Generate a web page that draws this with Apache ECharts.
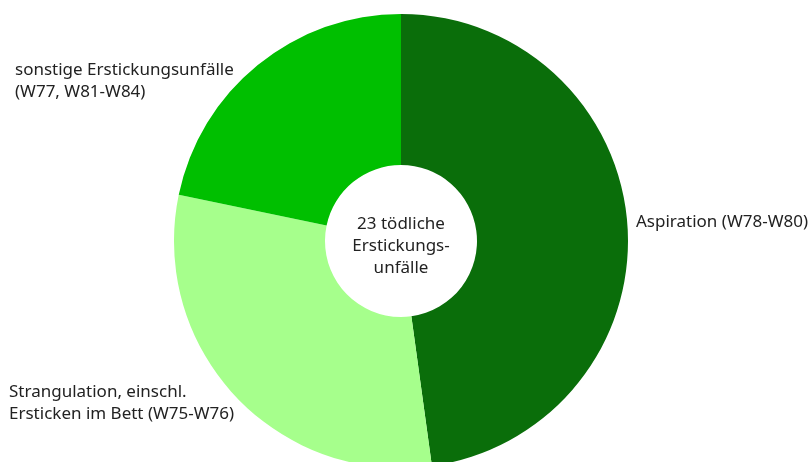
<!DOCTYPE html>
<html>
<head>
<meta charset="utf-8">
<script src="https://cdn.jsdelivr.net/npm/echarts@6/dist/echarts.min.js"></script>
<style>
  html, body { margin: 0; padding: 0; background: #fff; }
  #chart { width: 811px; height: 462px; }
</style>
</head>
<body>
<div id="chart"></div>
<script>
// Daten: tödliche Erstickungsunfälle
var categories = ['Aspiration (W78-W80)', 'Strangulation, einschl.\nErsticken im Bett (W75-W76)', 'sonstige Erstickungsunfälle\n(W77, W81-W84)'];
var values = [11, 7, 5];
var centerText = '23 tödliche\nErstickungs-\nunfälle';

var colors = ['#0a6e0a', '#a6ff8c', '#00bf00'];
// Beschriftungspositionen (x, y)
var labelPos = [
  { x: 636, y: 222 },
  { x: 9, y: 403 },
  { x: 15, y: 81 }
];

var pieData = categories.map(function (c, i) {
  return { name: c, value: values[i] };
});

var font = '"Noto Sans", "Open Sans", sans-serif';

var option = {
  animation: false,
  color: colors,
  series: [{
    type: 'pie',
    center: [401, 241],
    radius: [76, 227],
    startAngle: 90,
    clockwise: true,
    silent: true,
    itemStyle: { borderWidth: 0 },
    label: {
      show: true,
      position: 'outside',
      color: '#222',
      fontFamily: font,
      fontSize: 17,
      lineHeight: 22,
      overflow: 'none',
      width: 300,
      formatter: '{b}'
    },
    labelLine: { show: false },
    labelLayout: function (params) {
      var p = labelPos[params.dataIndex];
      return { x: p.x, y: p.y, align: 'left', verticalAlign: 'middle' };
    },
    data: pieData
  }],
  graphic: [{
    type: 'text',
    style: {
      text: centerText,
      x: 401,
      y: 246,
      align: 'center',
      verticalAlign: 'middle',
      fill: '#222',
      font: '17px ' + font,
      lineHeight: 22
    }
  }]
};

var myChart = echarts.init(document.getElementById('chart'));
myChart.setOption(option);
</script>
</body>
</html>
